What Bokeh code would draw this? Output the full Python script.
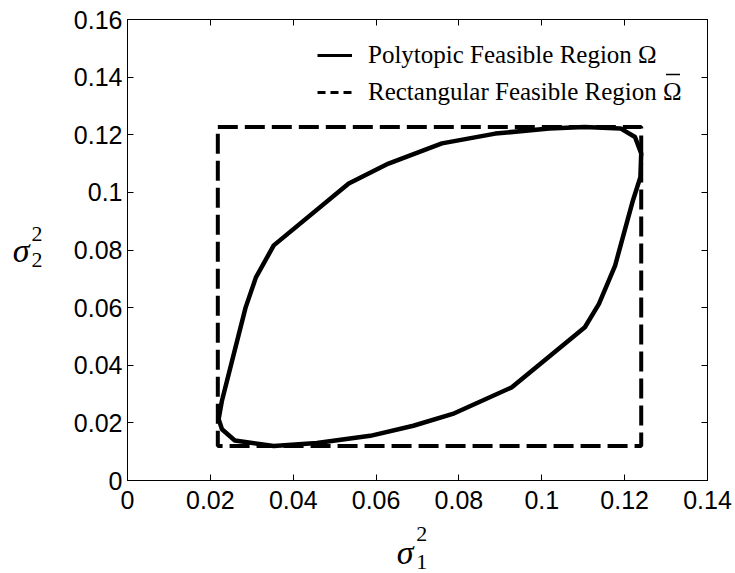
from bokeh.plotting import figure
from bokeh.models import Range1d, FixedTicker, LinearAxis, Legend, LegendItem
from bokeh.embed import file_html
from bokeh.resources import INLINE

# ---- data ----
x_ticks = [0, 0.02, 0.04, 0.06, 0.08, 0.10, 0.12, 0.14]
x_tick_labels = ["0", "0.02", "0.04", "0.06", "0.08", "0.1", "0.12", "0.14"]
y_ticks = [0, 0.02, 0.04, 0.06, 0.08, 0.10, 0.12, 0.14, 0.16]
y_tick_labels = ["0", "0.02", "0.04", "0.06", "0.08", "0.1", "0.12", "0.14", "0.16"]

poly_x = [0.0220, 0.0228, 0.0285, 0.0310, 0.0353, 0.0534, 0.0630, 0.0759, 0.0888,
          0.1018, 0.1103, 0.1190, 0.1225, 0.1240, 0.1238, 0.1220, 0.1177, 0.1138,
          0.1104, 0.0927, 0.0785, 0.0690, 0.0586, 0.0457, 0.0353, 0.0259, 0.0228,
          0.0220]
poly_y = [0.0213, 0.0277, 0.0600, 0.0705, 0.0816, 0.1031, 0.1100, 0.1170, 0.1204,
          0.1222, 0.1227, 0.1222, 0.1192, 0.1135, 0.1053, 0.0972, 0.0746, 0.0613,
          0.0532, 0.0323, 0.0231, 0.0190, 0.0155, 0.0130, 0.0120, 0.0139, 0.0178,
          0.0213]

rect_x_min, rect_x_max = 0.0218, 0.1240
rect_y_min, rect_y_max = 0.0120, 0.1227

legend_labels = ["Polytopic Feasible Region \u03a9",
                 "Rectangular Feasible Region \u03a9"]

x_label_main, x_label_sup, x_label_sub = "\u03c3", "2", "1"
y_label_main, y_label_sup, y_label_sub = "\u03c3", "2", "2"

# ---- layout constants (pixels) ----
W, H = 735, 573
BL, BR, BT, BB = 127, 28, 19, 93
X0, X1, Y0, Y1 = 0, 0.14, 0, 0.16

p = figure(width=W, height=H, output_backend="svg", toolbar_location=None,
           x_range=Range1d(X0, X1), y_range=Range1d(Y0, Y1),
           min_border_left=BL, min_border_right=BR, min_border_top=BT,
           min_border_bottom=BB)
p.xgrid.visible = False
p.ygrid.visible = False
p.outline_line_color = "black"
p.outline_line_width = 1
p.background_fill_color = "white"
p.border_fill_color = "white"

tick_font = "Liberation Sans"
for ax, ticks, labels in ((p.xaxis[0], x_ticks, x_tick_labels),
                          (p.yaxis[0], y_ticks, y_tick_labels)):
    ax.ticker = FixedTicker(ticks=ticks)
    ax.major_label_overrides = {t: l for t, l in zip(ticks, labels)}
    ax.major_label_text_font = tick_font
    ax.major_label_text_font_size = "25px"
    ax.major_label_text_color = "black"
    ax.major_tick_in = 6
    ax.major_tick_out = 0
    ax.minor_tick_in = 0
    ax.minor_tick_out = 0
    ax.axis_line_color = "black"
    ax.major_tick_line_color = "black"
p.xaxis[0].major_label_standoff = 10
p.yaxis[0].major_label_standoff = 5

# mirrored tick marks on top and right (no labels)
for loc, ticks in (("above", x_ticks), ("right", y_ticks)):
    a = LinearAxis(ticker=FixedTicker(ticks=ticks),
                   major_label_overrides={t: "" for t in ticks},
                   major_label_standoff=0, major_tick_in=6, major_tick_out=0,
                   minor_tick_in=0, minor_tick_out=0, axis_line_color="black",
                   major_tick_line_color="black")
    p.add_layout(a, loc)

# axis titles built from tick-label-only axes (sigma with stacked sub/superscripts)
def text_axis(loc, pos, labels, size, standoff, italic=False):
    a = LinearAxis(ticker=FixedTicker(ticks=pos),
                   major_label_overrides={t: l for t, l in zip(pos, labels)},
                   major_label_text_font="Liberation Serif",
                   major_label_text_font_size=size,
                   major_label_text_font_style="italic" if italic else "normal",
                   major_label_text_color="black",
                   major_label_standoff=standoff,
                   major_tick_in=0, major_tick_out=0, minor_tick_in=0, minor_tick_out=0,
                   axis_line_color=None, major_tick_line_color=None,
                   minor_tick_line_color=None)
    p.add_layout(a, loc)

# x title: order sigma, subscript, superscript (negative standoffs pull back up)
text_axis("below", [0.0670], [x_label_main], "34px", 22, italic=True)
text_axis("below", [0.0710], [x_label_sub], "22px", -19)
text_axis("below", [0.0710], [x_label_sup], "22px", -47)
# y title
text_axis("left", [0.0857, 0.0764], [y_label_sup, y_label_sub], "22px", 28)
text_axis("left", [0.0797], [y_label_main], "34px", -1, italic=True)

# ---- glyphs ----
poly = p.line(poly_x, poly_y, line_color="black", line_width=4.5, line_join="round")
rx = [rect_x_min, rect_x_max, rect_x_max, rect_x_min, rect_x_min]
ry = [rect_y_max, rect_y_max, rect_y_min, rect_y_min, rect_y_max]
rect = p.line(rx, ry, line_color="black", line_width=4, line_dash="20 7")

# legend swatches: hidden copies of the two outlines with the legend styling
leg_solid = p.line(poly_x, poly_y, line_color="black", line_width=3, visible=False)
leg_dash = p.line(rx, ry, line_color="black", line_width=3, line_dash="8 5",
                  visible=False)

legend = Legend(items=[LegendItem(label=legend_labels[0], renderers=[leg_solid]),
                       LegendItem(label=legend_labels[1], renderers=[leg_dash])],
                location=(190, 373), padding=0, margin=0, spacing=7,
                glyph_width=35, glyph_height=30, label_height=30,
                label_standoff=16, border_line_color=None,
                background_fill_alpha=0, inactive_fill_alpha=0,
                label_text_font="Liberation Serif", label_text_font_size="25px",
                label_text_color="black")
p.add_layout(legend, "center")

# overbar above the second Omega of the legend (pixel placement -> data space)
fw, fh = W - BL - BR, H - BT - BB
def px_to_x(px):
    return X0 + (px - BL) / fw * (X1 - X0)
def py_to_y(py):
    return Y0 + (H - BB - py) / fh * (Y1 - Y0)
p.segment(x0=[px_to_x(665.5)], y0=[py_to_y(74)], x1=[px_to_x(679.5)], y1=[py_to_y(74)],
          line_color="black", line_width=1.5)

open("out.html", "w").write(file_html(p, INLINE))
